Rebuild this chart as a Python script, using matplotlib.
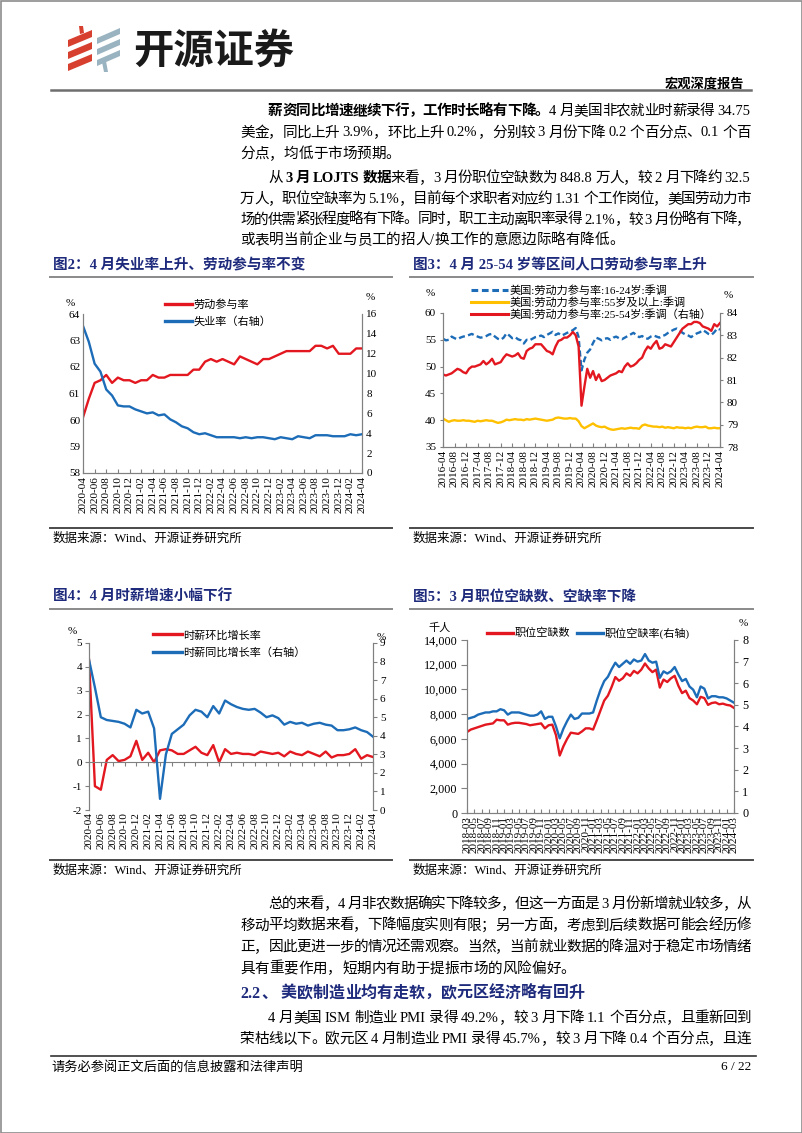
import numpy as np
import pandas as pd
import matplotlib
matplotlib.use('Agg')
import matplotlib.pyplot as plt
from matplotlib.patches import Polygon, Rectangle
from matplotlib.lines import Line2D
from matplotlib.ticker import FuncFormatter

plt.rcParams['font.family'] = ['Liberation Serif', 'Noto Sans CJK SC']
plt.rcParams['axes.unicode_minus'] = False

# ---------------- data ----------------
# fig 2: monthly 2020-04 .. 2024-04
months_20 = pd.date_range('2020-04', '2024-04', freq='MS').strftime('%Y-%m').tolist()
lfpr = [60.1, 60.8, 61.4, 61.5, 61.7, 61.4, 61.6, 61.5, 61.5, 61.4, 61.5, 61.5, 61.7,
        61.6, 61.6, 61.7, 61.7, 61.7, 61.7, 61.9, 61.9, 62.2, 62.3, 62.2, 62.3, 62.2,
        62.1, 62.4, 62.3, 62.2, 62.1, 62.3, 62.3, 62.4, 62.5, 62.6, 62.6, 62.6, 62.6,
        62.6, 62.8, 62.8, 62.7, 62.8, 62.5, 62.5, 62.5, 62.7, 62.7]
unemp = [14.8, 13.2, 11.0, 10.2, 8.4, 7.8, 6.8, 6.7, 6.7, 6.4, 6.2, 6.0, 6.1, 5.8, 5.9,
         5.4, 5.1, 4.7, 4.5, 4.1, 3.9, 4.0, 3.8, 3.6, 3.6, 3.6, 3.6, 3.5, 3.6, 3.5, 3.6,
         3.6, 3.5, 3.4, 3.6, 3.5, 3.4, 3.7, 3.6, 3.5, 3.8, 3.8, 3.8, 3.7, 3.7, 3.7, 3.9,
         3.8, 3.9]

# fig 3: monthly 2016-04 .. 2024-04
months_16 = pd.date_range('2016-04', '2024-04', freq='MS').strftime('%Y-%m').tolist()
lfpr_16_24 = [55.2, 54.9, 55.0, 55.6, 55.3, 55.1, 55.4, 55.6, 55.7,
              55.9, 56.1, 55.8, 55.6, 55.4, 55.5, 55.7, 56.0, 56.1, 55.6, 55.2, 55.0,
              55.4, 56.2, 55.8, 55.3, 55.5, 55.1, 54.9, 54.3, 55.0, 54.9, 55.2, 55.5,
              55.6, 55.8, 55.5, 55.9, 56.2, 56.5, 55.9, 56.2, 55.8, 56.0, 56.3, 56.5,
              56.8, 57.2, 55.5, 49.3, 51.3, 52.6, 53.2, 54.4, 55.4, 55.2, 54.9, 55.2,
              55.3, 55.0, 55.4, 55.6, 55.3, 55.1, 55.4, 55.7, 56.0, 56.3, 55.9, 55.5,
              55.7, 55.3, 55.2, 55.6, 55.8, 55.6, 55.4, 55.7, 55.9, 56.3, 56.6, 56.9,
              57.1, 56.8, 56.3, 56.0, 55.8, 55.5, 55.9, 56.2, 56.4, 56.8, 56.5, 56.1,
              55.9, 56.4, 57.1, 56.9]
lfpr_55 = [40.3, 40.0, 39.7, 39.9, 40.0, 39.9, 39.9, 40.0, 39.9,
           39.9, 39.8, 39.7, 39.9, 39.8, 39.9, 40.0, 39.9, 39.9, 39.7, 39.5, 39.6,
           39.8, 40.1, 40.0, 40.1, 40.2, 40.1, 40.1, 40.0, 40.2, 40.1, 40.2, 40.3,
           40.2, 40.1, 40.0, 39.9, 40.0, 40.1, 40.4, 40.5, 40.4, 40.3, 40.3, 40.4,
           40.3, 40.3, 39.8, 38.9, 38.5, 38.8, 39.1, 39.4, 39.0, 38.8, 38.7, 38.8,
           38.5, 38.3, 38.2, 38.3, 38.4, 38.5, 38.4, 38.5, 38.6, 38.5, 38.5, 38.4,
           39.0, 39.2, 39.0, 38.9, 38.8, 38.8, 38.7, 38.8, 38.6, 38.7, 38.6, 38.5,
           38.7, 38.6, 38.6, 38.5, 38.6, 38.5, 38.7, 38.8, 38.7, 38.7, 38.8, 38.5,
           38.5, 38.6, 38.5, 38.5]
lfpr_25_54 = [81.25, 81.2, 81.25, 81.3, 81.4, 81.5, 81.45, 81.35, 81.3,
              81.5, 81.6, 81.6, 81.65, 81.7, 81.85, 81.7, 81.8, 81.95, 81.7, 81.75, 81.8,
              82.0, 82.15, 82.1, 82.05, 82.1, 82.2, 82.0, 81.95, 82.3, 82.4, 82.45, 82.6,
              82.6, 82.6, 82.45, 82.3, 82.25, 82.15, 82.5, 82.75, 82.8, 82.9, 82.9, 83.0,
              83.15, 83.0, 82.5, 79.85, 80.7, 81.5, 81.1, 81.4, 81.0, 81.25, 80.95, 81.0,
              81.1, 81.2, 81.25, 81.3, 81.4, 81.35, 81.6, 81.75, 81.6, 81.65, 81.75, 81.9,
              82.0, 82.3, 82.5, 82.4, 82.6, 82.75, 82.4, 82.45, 82.6, 82.55, 82.5, 82.7,
              82.9, 83.1, 83.3, 83.4, 83.5, 83.5, 83.6, 83.6, 83.55, 83.4, 83.35, 83.3,
              83.2, 83.5, 83.4, 83.55]

# fig 4: monthly 2020-04 .. 2024-04
wage_mom = [4.3, -1.0, -1.15, 0.1, 0.3, 0.05, 0.1, 0.25, 0.9, 0.1, 0.4, 0.0, 0.5, 0.55,
            0.5, 0.35, 0.35, 0.5, 0.65, 0.4, 0.3, 0.72, 0.0, 0.55, 0.35, 0.4, 0.35, 0.35,
            0.3, 0.45, 0.4, 0.35, 0.4, 0.25, 0.45, 0.35, 0.3, 0.45, 0.35, 0.25, 0.45, 0.2,
            0.3, 0.3, 0.35, 0.55, 0.15, 0.3, 0.22]
wage_yoy = [8.1, 6.6, 5.0, 4.85, 4.8, 4.75, 4.65, 4.45, 5.4, 5.2, 5.3, 4.4, 0.6, 3.0,
            4.1, 4.35, 4.6, 5.1, 5.4, 5.3, 5.0, 5.6, 5.2, 5.9, 5.7, 5.55, 5.45, 5.4, 5.45,
            5.25, 5.0, 5.1, 4.95, 4.6, 4.75, 4.65, 4.7, 4.55, 4.65, 4.7, 4.6, 4.55, 4.3,
            4.3, 4.35, 4.45, 4.3, 4.2, 3.95]

# fig 5: monthly 2018-03 .. 2024-03
months_18 = pd.date_range('2018-03', '2024-03', freq='MS').strftime('%Y-%m').tolist()
openings = [6550, 6750, 6850, 6950, 7050, 7150, 7200, 7250, 7550, 7500, 7500, 7150, 7250,
            7300, 7300, 7250, 7200, 7100, 7150, 7200, 7250, 6850, 7100, 7150, 6300, 4650,
            5400, 6000, 6500, 6450, 6400, 6600, 6850, 6850, 6750, 7500, 8300, 9100, 9500,
            10200, 11000, 10700, 10900, 11300, 11100, 11500, 11300, 11600, 12100, 11700,
            11400, 11600, 10150, 10800, 10600, 10900, 11100, 10300, 9700, 9900, 9300, 9100,
            8800, 9400, 9300, 8750, 8900, 8950, 8800, 8850, 8750, 8700, 8500]
open_rate = [4.35, 4.4, 4.45, 4.55, 4.6, 4.65, 4.65, 4.7, 4.7, 4.8, 4.75, 4.55, 4.65, 4.65,
             4.65, 4.6, 4.55, 4.5, 4.5, 4.55, 4.7, 4.35, 4.45, 4.45, 4.0, 3.45, 3.9, 4.25,
             4.55, 4.35, 4.4, 4.6, 4.6, 4.6, 4.65, 5.2, 5.7, 6.1, 6.3, 6.65, 6.95, 6.75,
             6.9, 7.05, 6.9, 7.1, 7.0, 7.05, 7.35, 7.05, 6.95, 7.0, 6.25, 6.55, 6.45, 6.55,
             6.75, 6.4, 6.1, 6.2, 5.85, 5.7, 5.35, 5.85, 5.75, 5.3, 5.4, 5.4, 5.35, 5.35,
             5.3, 5.2, 5.1]

# ---------------- page ----------------
W, H = 802, 1133
RED = '#E3171F'
BLUE = '#1C6CB8'
YEL = '#FFC000'
NAVY = '#1E2A7C'
AXC = '#808080'
BODY = 10.5

fig = plt.figure(figsize=(W / 100, H / 100), dpi=100, facecolor='white')
page = fig.add_axes([0, 0, 1, 1])
page.set_xlim(0, W)
page.set_ylim(H, 0)
page.axis('off')
renderer = fig.canvas.get_renderer()


def rect(l, t, r, b):
    return [l / W, 1 - b / H, (r - l) / W, (b - t) / H]


def is_cjk(c):
    return ord(c) >= 0x2E80


def tokens_of(parts):
    toks = []
    for txt, bold in parts:
        run = ''
        for c in txt:
            if c == ' ' or is_cjk(c):
                if run:
                    toks.append(('lat', run, bold))
                    run = ''
                toks.append(('sp' if c == ' ' else 'cjk', c, bold))
            else:
                run += c
        if run:
            toks.append(('lat', run, bold))
    return toks


def latin_width(s, bold, size):
    t = page.text(0, 0, s, fontsize=size, fontweight='bold' if bold else 'normal')
    w = t.get_window_extent(renderer).width
    t.remove()
    return w


def body_line(x0, y, parts, justify=True, x1=751, size=BODY, color='black'):
    em = size * 100 / 72
    toks = tokens_of(parts)
    widths = []
    for kind, s, b in toks:
        if kind == 'cjk':
            widths.append(em)
        elif kind == 'sp':
            widths.append(em * 0.25)
        else:
            widths.append(latin_width(s, b, size) + 0.8)
    gap = 0
    if justify and len(toks) > 1:
        gap = (x1 - x0 - sum(widths)) / (len(toks) - 1)
    x = x0
    for (kind, s, b), w in zip(toks, widths):
        if kind != 'sp':
            page.text(x, y, s, fontsize=size, fontweight='bold' if b else 'normal',
                      color=color, va='baseline', ha='left')
        x += w + gap


# page frame
page.add_patch(Rectangle((0.5, 0.5), W - 1, H - 1, fill=False, ec='#8c8c8c', lw=1.2))

# logo
for yl in (40, 52, 64):
    page.add_patch(Polygon([(68, yl), (92, yl - 10), (92, yl - 3), (68, yl + 7)],
                           closed=True, fc='#D7402F', ec='none'))
page.add_patch(Polygon([(79, 26), (83, 26), (84, 33), (80, 34)], fc='#D7402F', ec='none'))
for yl in (38, 49, 60):
    page.add_patch(Polygon([(97, yl), (120, yl - 10), (120, yl - 4), (97, yl + 6)],
                           closed=True, fc='#9AB3C0', ec='none'))
page.add_patch(Polygon([(102, 62), (106, 61), (108, 72), (104, 72)], fc='#9AB3C0', ec='none'))
page.text(133, 51, '开源证券', fontsize=29, fontweight='bold', va='center', ha='left',
          family='Noto Sans CJK SC', color='#1a1a1a')

page.text(744, 87, '宏观深度报告', fontsize=9.5, fontweight='bold', ha='right', va='baseline')
page.plot([51, 751], [90, 90], color='#6e6e6e', lw=1.8)

# top body text
body_line(268, 115, [('薪资同比增速继续下行，工作时长略有下降。', True),
                     ('4 月美国非农就业时薪录得 34.75', False)])
body_line(240, 136.5, [('美金，同比上升 3.9%，环比上升 0.2%，分别较 3 月份下降 0.2 个百分点、0.1 个百', False)])
body_line(240, 158, [('分点，均低于市场预期。', False)], justify=False)
body_line(268, 182, [('从 ', False), ('3 月 LOJTS 数据', True),
                     ('来看，3 月份职位空缺数为 848.8 万人，较 2 月下降约 32.5', False)])
body_line(240, 203, [('万人，职位空缺率为 5.1%，目前每个求职者对应约 1.31 个工作岗位，美国劳动力市', False)])
body_line(240, 223.5, [('场的供需紧张程度略有下降。同时，职工主动离职率录得 2.1%，较 3 月份略有下降，', False)])
body_line(240, 244, [('或表明当前企业与员工的招人/换工作的意愿边际略有降低。', False)], justify=False)

# chart frames: titles, rules, sources
for x0, x1, ty, fy, title in [
        (50, 392, 265, 528, '图2：4 月失业率上升、劳动参与率不变'),
        (410, 753, 265, 528, '图3：4 月 25-54 岁等区间人口劳动参与率上升'),
        (50, 392, 597, 860, '图4：4 月时薪增速小幅下行'),
        (410, 753, 597, 860, '图5：3 月职位空缺数、空缺率下降')]:
    page.text(x0 + 3, ty, title, fontsize=10.5, fontweight='bold', color=NAVY,
              va='center', ha='left')
    page.plot([x0, x1], [ty + 12, ty + 12], color='#8a8a8a', lw=1.4)
    page.plot([x0, x1], [fy, fy], color='#4a4a4a', lw=1.4)
    page.text(x0 + 3, fy + 11, '数据来源：Wind、开源证券研究所', fontsize=9,
              va='center', ha='left')


def style(ax, axr, xdir='in', lpad=2, llen=0, rpad=2, rlen=0, ysize=8):
    for a in (ax, axr):
        a.set_facecolor('none')
        a.spines['top'].set_visible(False)
        for s in ('left', 'right', 'bottom'):
            a.spines[s].set_color(AXC)
            a.spines[s].set_linewidth(0.8)
    ax.tick_params(axis='y', direction='out', length=llen, width=0.8, color=AXC,
                   labelsize=ysize, pad=lpad)
    axr.tick_params(axis='y', direction='out', length=rlen, width=0.8, color=AXC,
                    labelsize=ysize, pad=rpad)
    ax.tick_params(axis='x', direction=xdir, length=3, width=0.8, color=AXC,
                   labelsize=8, pad=2)


def legend_at(ax, handles, labels, x, y, **kw):
    ax.legend(handles, labels, loc='upper left', bbox_to_anchor=(x / W, 1 - y / H),
              bbox_transform=fig.transFigure, frameon=False, fontsize=8,
              borderpad=0, borderaxespad=0, **kw)


# ---------- fig 2 ----------
ax = fig.add_axes(rect(83, 314, 362, 473))
axr = ax.twinx()
x2 = np.arange(len(lfpr))
ax.plot(x2, lfpr, color=RED, lw=1.7)
axr.plot(x2, unemp, color=BLUE, lw=1.7)
ax.set_xlim(0, len(lfpr) - 1)
ax.set_ylim(58, 64)
axr.set_ylim(0, 16)
ax.set_yticks(range(58, 65))
axr.set_yticks(range(0, 17, 2))
ax.set_xticks(x2[::2])
ax.set_xticklabels(months_20[::2], rotation=90)
style(ax, axr, lpad=2, rpad=3)
legend_at(axr, [Line2D([], [], color=RED, lw=2.4), Line2D([], [], color=BLUE, lw=2.4)],
          ['劳动参与率', '失业率（右轴）'], 165, 299,
          handlelength=2.4, handletextpad=0.2, labelspacing=0.6)
page.text(70, 303, '%', fontsize=8, ha='center', va='center')
page.text(370, 298, '%', fontsize=8, ha='center', va='center')

# ---------- fig 3 ----------
ax = fig.add_axes(rect(443, 313, 720, 447))
axr = ax.twinx()
x3 = np.arange(len(lfpr_16_24))
ax.plot(x3, lfpr_16_24, color=BLUE, lw=1.7, ls=(0, (2.6, 1.4)))
ax.plot(x3, lfpr_55, color=YEL, lw=1.7)
axr.plot(x3, lfpr_25_54, color=RED, lw=1.7)
ax.set_xlim(0, len(x3) - 1)
ax.set_ylim(35, 60)
axr.set_ylim(78, 84)
ax.set_yticks(range(35, 61, 5))
axr.set_yticks(range(78, 85))
ax.set_xticks(x3[::4])
ax.set_xticklabels(months_16[::4], rotation=90)
style(ax, axr, lpad=3, rpad=3, llen=2, rlen=2)
legend_at(axr, [Line2D([], [], color=BLUE, lw=2.2, ls=(0, (2.2, 1.2))),
                Line2D([], [], color=YEL, lw=2.2), Line2D([], [], color=RED, lw=2.2)],
          ['美国:劳动力参与率:16-24岁:季调', '美国:劳动力参与率:55岁及以上:季调',
           '美国:劳动力参与率:25-54岁:季调（右轴）'], 471, 285,
          handlelength=3.3, handletextpad=0.2, labelspacing=0.12)
page.text(430, 293, '%', fontsize=8, ha='center', va='center')
page.text(728, 295, '%', fontsize=8, ha='center', va='center')

# ---------- fig 4 ----------
ax = fig.add_axes(rect(89, 643, 373, 810))
axr = ax.twinx()
x4 = np.arange(len(wage_mom))
ax.spines['bottom'].set_position(('data', 0))
ax.plot(x4, wage_mom, color=RED, lw=1.7)
axr.plot(x4, wage_yoy, color=BLUE, lw=1.7)
ax.set_xlim(0, len(x4) - 1)
ax.set_ylim(-2, 5)
axr.set_ylim(0, 9)
ax.set_yticks(range(-2, 6))
axr.set_yticks(range(0, 10))
style(ax, axr, xdir='out', lpad=2, llen=3, rpad=2, rlen=3)
axr.spines['bottom'].set_visible(False)
ax.set_xticks(x4[::2])
ax.set_xticklabels(months_20[::2], rotation=90)
ax.tick_params(axis='x', pad=33)
legend_at(axr, [Line2D([], [], color=RED, lw=2.4), Line2D([], [], color=BLUE, lw=2.4)],
          ['时薪环比增长率', '时薪同比增长率（右轴）'], 153, 630,
          handlelength=2.6, handletextpad=0.15, labelspacing=0.65)
page.text(72, 632, '%', fontsize=8, ha='center', va='center')
page.text(381, 638, '%', fontsize=8, ha='center', va='center')

# ---------- fig 5 ----------
ax = fig.add_axes(rect(467, 640, 734, 813))
axr = ax.twinx()
x5 = np.arange(len(openings))
ax.plot(x5, openings, color=RED, lw=1.7)
axr.plot(x5, open_rate, color=BLUE, lw=1.7)
ax.set_xlim(0, len(x5) - 1)
ax.set_ylim(0, 14000)
axr.set_ylim(0, 8)
ax.set_yticks(range(0, 14001, 2000))
ax.yaxis.set_major_formatter(FuncFormatter(lambda v, p: f'{int(v):,}'))
axr.set_yticks(range(0, 9))
ax.set_xticks(x5[::2])
ax.set_xticklabels(months_18[::2], rotation=90, fontsize=7.5)
style(ax, axr, lpad=3, llen=4, rpad=3, rlen=3, ysize=8.7)
legend_at(axr, [Line2D([], [], color=RED, lw=2.4), Line2D([], [], color=BLUE, lw=2.4)],
          ['职位空缺数', '职位空缺率(右轴)'], 487, 627, ncol=2,
          handlelength=2.3, handletextpad=0.2, columnspacing=0.6)
page.text(440, 628, '千人', fontsize=8, ha='center', va='center')
page.text(743, 623, '%', fontsize=8, ha='center', va='center')

# bottom body text
body_line(268, 908, [('总的来看，4 月非农数据确实下降较多，但这一方面是 3 月份新增就业较多，从', False)])
body_line(240, 929.5, [('移动平均数据来看，下降幅度实则有限；另一方面，考虑到后续数据可能会经历修', False)])
body_line(240, 951, [('正，因此更进一步的情况还需观察。当然，当前就业数据的降温对于稳定市场情绪', False)])
body_line(240, 972.5, [('具有重要作用，短期内有助于提振市场的风险偏好。', False)], justify=False)
body_line(240, 997.5, [('2.2、 美欧制造业均有走软，欧元区经济略有回升', True)], justify=False,
          size=11.5, color=NAVY)
body_line(268, 1022, [('4 月美国 ISM 制造业 PMI 录得 49.2%，较 3 月下降 1.1 个百分点，且重新回到', False)])
body_line(240, 1043, [('荣枯线以下。欧元区 4 月制造业 PMI 录得 45.7%，较 3 月下降 0.4 个百分点，且连', False)])

# footer
page.plot([51, 756], [1056, 1056], color='#333333', lw=1.2)
page.text(51, 1067, '请务必参阅正文后面的信息披露和法律声明', fontsize=9.5, va='center', ha='left')
page.text(751, 1067, '6 / 22', fontsize=9.5, va='center', ha='right')

fig.savefig('out.png', dpi=100, facecolor='white')
